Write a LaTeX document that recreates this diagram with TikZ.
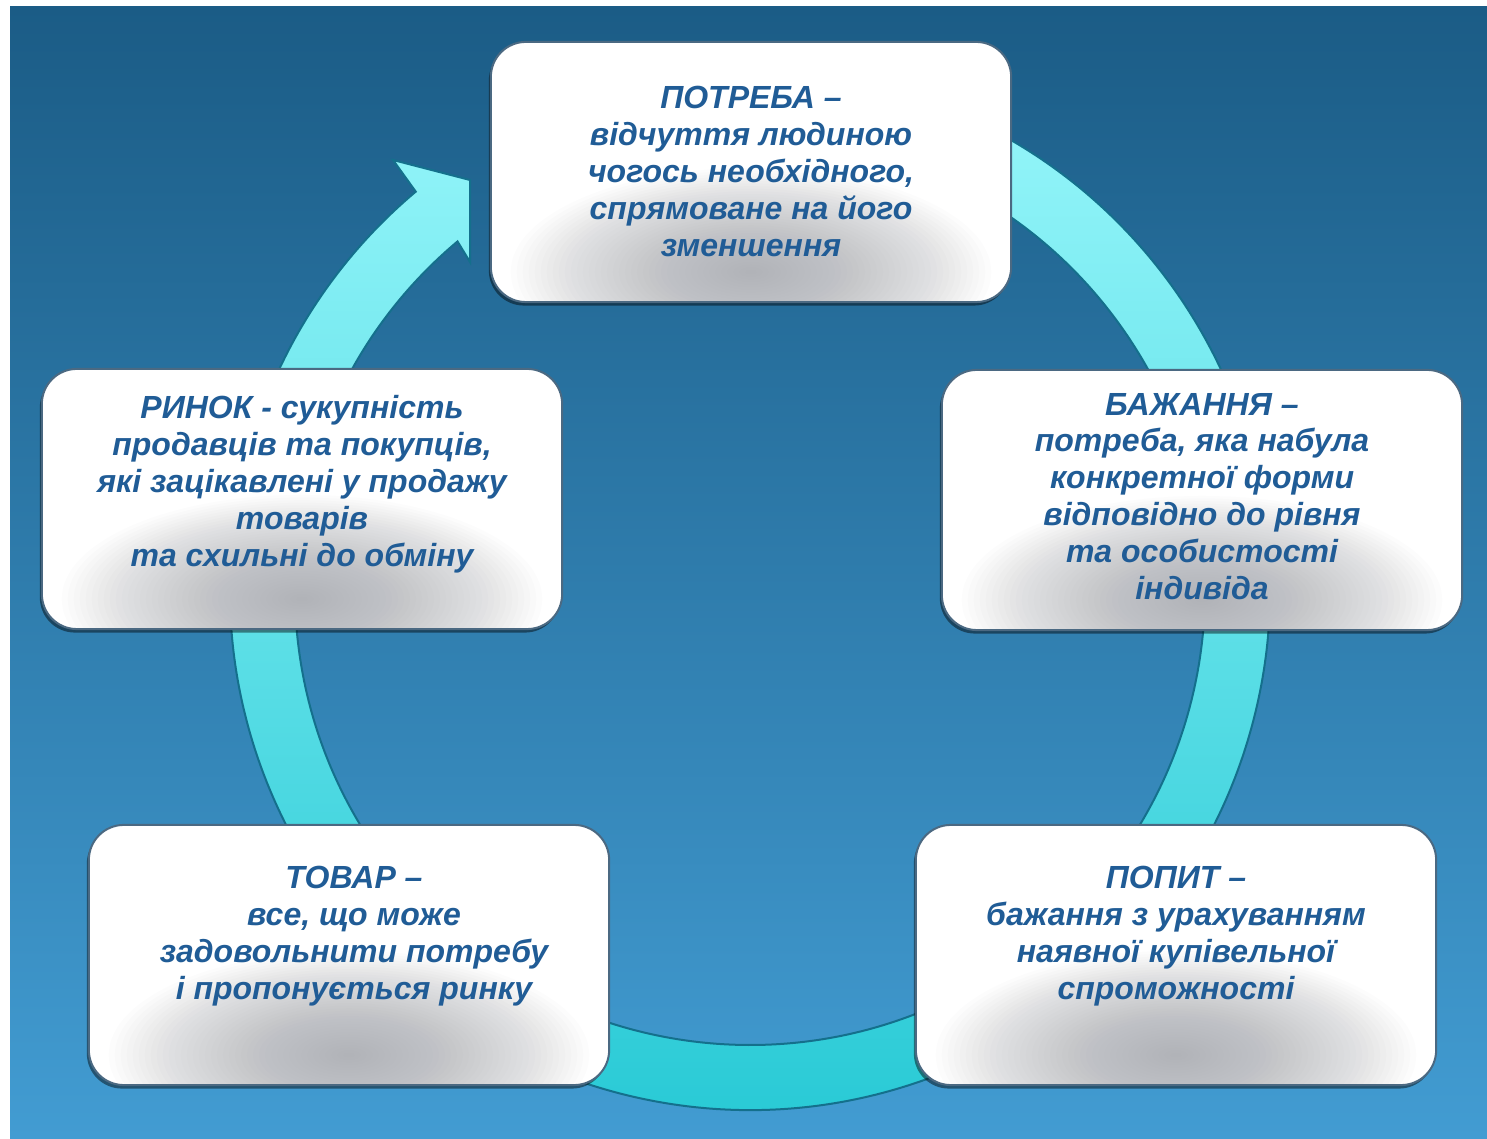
\documentclass[tikz,border=0pt]{standalone}
\usepackage{fontspec}
\setmainfont{Liberation Sans}
\usetikzlibrary{calc,shadows}
\definecolor{bgTop}{RGB}{27,92,134}
\definecolor{bgBot}{RGB}{66,156,210}
\definecolor{ringTop}{RGB}{150,246,250}
\definecolor{ringBot}{RGB}{36,200,212}
\definecolor{ringEdge}{RGB}{20,112,140}
\definecolor{cardEdge}{RGB}{75,105,130}
\definecolor{cardGray}{RGB}{160,163,170}
\definecolor{txtBlue}{RGB}{32,92,150}
\tikzset{
	card/.style={draw=cardEdge, line width=0.02cm, fill=white, rounded corners=0.35cm,
		minimum width=5.2cm, minimum height=2.6cm, inner sep=0pt,
		drop shadow={shadow xshift=-0.02cm, shadow yshift=-0.035cm, fill=black, opacity=.45},
		path picture={\foreach \k in {1,...,40}{
				\fill[cardGray, opacity=0.03] ([yshift=0.3cm]path picture bounding box.south)
					ellipse[x radius={\k*0.06cm}, y radius={\k*0.026cm}];}}},
	cardtext/.style={text=txtBlue, font=\fontsize{9.1}{10.5}\selectfont\bfseries\itshape, inner sep=0pt},
	ringfill/.style={top color=ringTop, bottom color=ringBot, draw=ringEdge, line width=0.02cm}
}

\begin{document}
\begin{tikzpicture}[x=0.01cm, y=0.01cm]
	\useasboundingbox (0,0) rectangle (1487,1139);
	\shade[top color=bgTop, bottom color=bgBot] (10,0) rectangle (1487,1132);
	
	\coordinate (C) at (750,549);
	% ring with arrow head
	\path[ringfill] ($(C)+(75:520)$) arc[start angle=75, end angle=-230, radius=520]
		-- (393,979) -- (470,959) -- (470,877)
		-- ($(C)+(130:455)$) arc[start angle=130, end angle=435, radius=455] -- cycle;
	
	\node[card] (potreba) at (751,967) {};
	\node[card] (rynok) at (302,640) {};
	\node[card] (bazhannia) at (1202,639) {};
	\node[card] (tovar) at (349,184) {};
	\node[card] (popyt) at (1176,184) {};
	
	\node[cardtext] (potreba-txt) at ($(potreba)+(0,-3)$) {\begin{tabular}{c}
			ПОТРЕБА –\\ відчуття людиною\\ чогось необхідного,\\ спрямоване на його\\ зменшення
	\end{tabular}};
	\node[cardtext] (rynok-txt) at ($(rynok)+(0,14)$) {\begin{tabular}{c}
			РИНОК - сукупність\\ продавців та покупців,\\ які зацікавлені у продажу\\ товарів\\ та схильні до обміну
	\end{tabular}};
	\node[cardtext] (bazhannia-txt) at (bazhannia) {\begin{tabular}{c}
			БАЖАННЯ –\\ потреба, яка набула\\ конкретної форми\\ відповідно до рівня\\ та особистості\\ індивіда
	\end{tabular}};
	\node[cardtext] (tovar-txt) at ($(tovar)+(5,18)$) {\begin{tabular}{c}
			ТОВАР –\\ все, що може\\ задовольнити потребу\\ і пропонується ринку
	\end{tabular}};
	\node[cardtext] (popyt-txt) at ($(popyt)+(0,18)$) {\begin{tabular}{c}
			ПОПИТ –\\ бажання з урахуванням\\ наявної купівельної\\ спроможності
	\end{tabular}};
\end{tikzpicture}
\end{document}
